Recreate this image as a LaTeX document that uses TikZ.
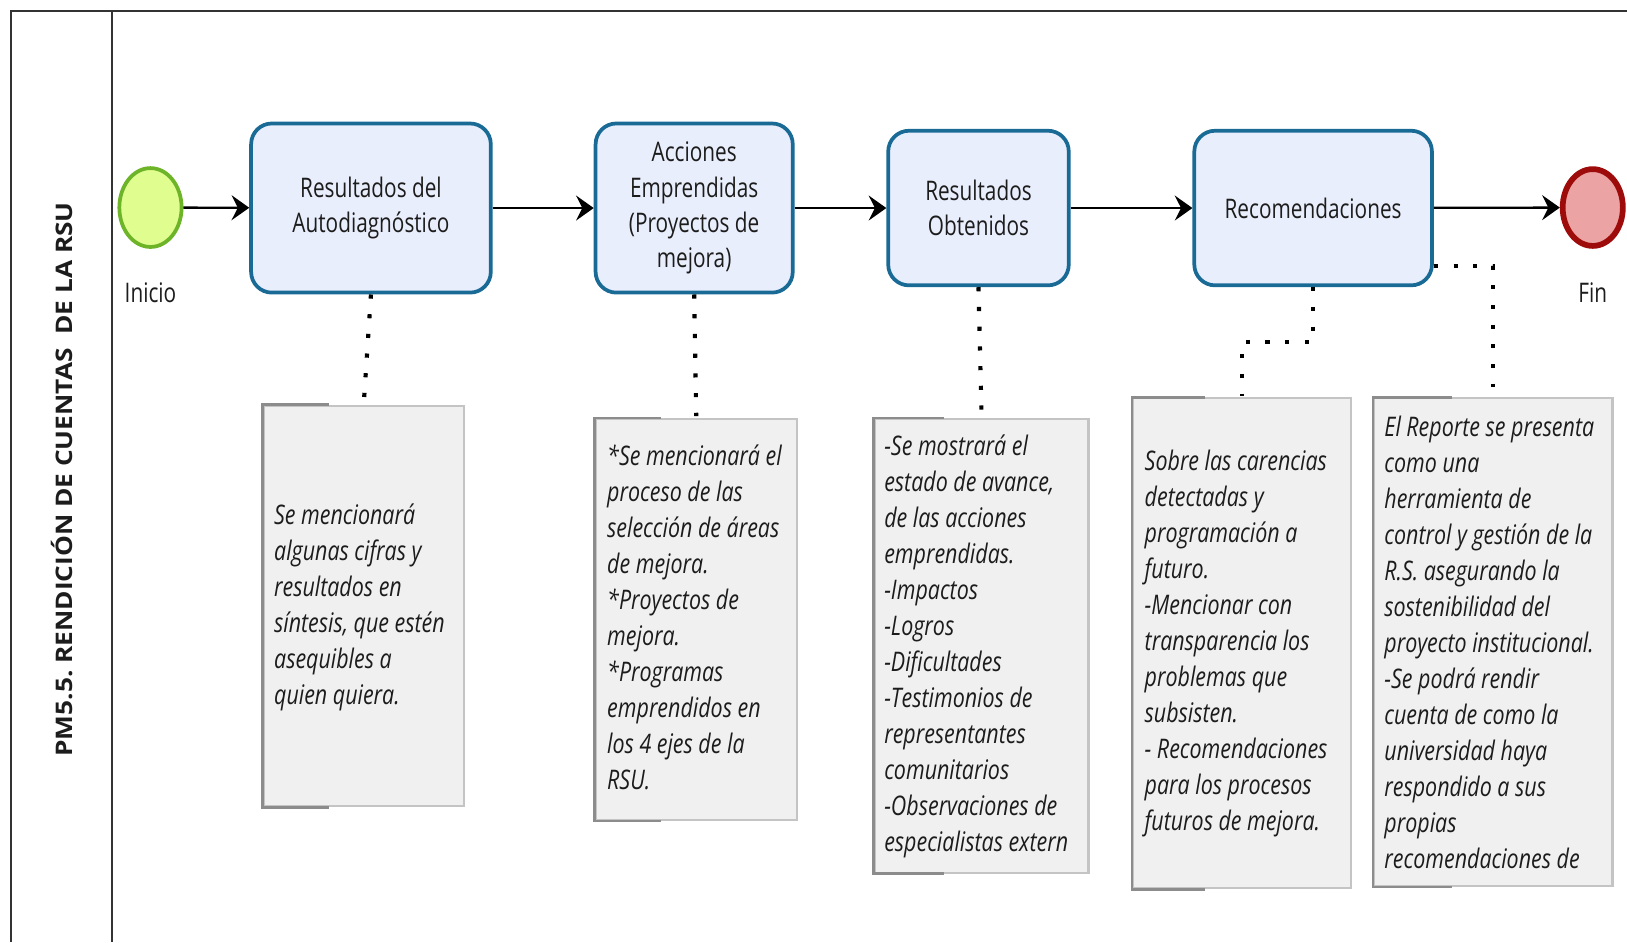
\documentclass[tikz,border=0pt]{standalone}
\usepackage{fontspec}
\setmainfont[FakeStretch=0.77]{Open Sans}
\newfontfamily\notefont[FakeStretch=0.795]{Open Sans}
\newfontfamily\lanefont[FakeStretch=1.15]{Open Sans}
\usetikzlibrary{arrows.meta,shapes.geometric}
\definecolor{taskfill}{HTML}{E9EEFC}
\definecolor{taskline}{HTML}{1A6A96}
\definecolor{startfill}{HTML}{E0FD8F}
\definecolor{startline}{HTML}{6DB428}
\definecolor{endfill}{HTML}{EBA3A3}
\definecolor{endline}{HTML}{9E0B0B}
\definecolor{notefill}{HTML}{F0F0F0}
\definecolor{noteline}{HTML}{C4C4C4}
\definecolor{notebracket}{HTML}{8C8C8C}
\definecolor{frameline}{HTML}{333333}
\definecolor{txt}{HTML}{1C1C1C}
\frenchspacing
\tikzset{
  frame/.style={draw=frameline, line width=2pt},
  taskbox/.style={draw=taskline, fill=taskfill, line width=3.6pt, rounded corners=20pt,
    inner sep=0pt, align=center, text=txt, font=\fontsize{26}{34}\selectfont},
  startev/.style={ellipse, draw=startline, fill=startfill, line width=3.6pt,
    minimum width=60pt, minimum height=76pt, inner sep=0pt},
  endev/.style={ellipse, draw=endline, fill=endfill, line width=5.5pt,
    minimum width=58pt, minimum height=74pt, inner sep=0pt},
  evlabel/.style={text=txt, font=\fontsize{26}{34}\selectfont, inner sep=0pt},
  notebox/.style={draw=noteline, fill=notefill, line width=2pt, inner sep=0pt},
  notetext/.style={anchor=west, align=left, inner sep=0pt, text=txt,
    font=\notefont\itshape\fontsize{26}{34.7}\selectfont},
  bracket/.style={draw=notebracket, line width=2.4pt},
  flow/.style={draw=black, line width=2.2pt, -{Stealth[length=17pt,width=24pt,inset=6pt]}},
  assoc/.style={draw=black, line width=4pt, dash pattern=on 4pt off 15pt}
}
\begin{document}
\begin{tikzpicture}[x=1pt,y=-1pt]
\useasboundingbox (0,0) rectangle (1568,908);
\clip (0,0) rectangle (1568,908);
\fill[white] (0,0) rectangle (1568,908);

% pool frame
\draw[frame] (1568,11) -- (11,11) -- (11,908);
\draw[frame] (108,11) -- (108,908);
\node[rotate=90, inner sep=0pt, text=txt] (lane) at (60,462)
  {\lanefont\bfseries\fontsize{22}{26}\selectfont PM5.5. RENDICIÓN DE CUENTAS\ \ DE LA RSU};

% events and tasks
\node[startev] (start) at (145,200) {};
\node[evlabel] (startl) at (145,282) {Inicio};
\node[taskbox, minimum width=231pt, minimum height=163pt] (t1) at (357.5,200.5) {Resultados del\\Autodiagnóstico};
\node[taskbox, minimum width=190pt, minimum height=163pt] (t2) at (669,200.5) {Acciones\\Emprendidas\\(Proyectos de\\mejora)};
\node[taskbox, minimum width=174pt, minimum height=149pt] (t3) at (943,200.5) {Resultados\\Obtenidos};
\node[taskbox, minimum width=229pt, minimum height=149pt] (t4) at (1265.5,200.5) {Recomendaciones};
\node[endev] (end) at (1535,200) {};
\node[evlabel] (endl) at (1535,282) {Fin};

\draw[flow] (start) -- (t1);
\draw[flow] (t1) -- (t2);
\draw[flow] (t2) -- (t3);
\draw[flow] (t3) -- (t4);
\draw[flow] (t4) -- (end);

% notes
\node[notebox, minimum width=193pt, minimum height=386pt] (n1) at (350.5,584) {};
\node[notebox, minimum width=194pt, minimum height=386pt] (n2) at (671,597) {};
\node[notebox, minimum width=206pt, minimum height=437pt] (n3) at (946,622.5) {};
\node[notebox, minimum width=210pt, minimum height=472pt] (n4) at (1197,620) {};
\node[notebox, minimum width=230pt, minimum height=470pt] (n5) at (1439,619) {};

\draw[bracket] ([xshift=64pt]n1.north west) -- (n1.north west) -- (n1.south west) -- ([xshift=64pt]n1.south west);
\draw[bracket] ([xshift=64pt]n2.north west) -- (n2.north west) -- (n2.south west) -- ([xshift=64pt]n2.south west);
\draw[bracket] ([xshift=68pt]n3.north west) -- (n3.north west) -- (n3.south west) -- ([xshift=68pt]n3.south west);
\draw[bracket] ([xshift=70pt]n4.north west) -- (n4.north west) -- (n4.south west) -- ([xshift=70pt]n4.south west);
\draw[bracket] ([xshift=76pt]n5.north west) -- (n5.north west) -- (n5.south west) -- ([xshift=76pt]n5.south west);

\node[notetext] (n1t) at ([xshift=11pt,yshift=-1pt]n1.west) {Se mencionará\\algunas cifras y\\resultados en\\síntesis, que estén\\asequibles a\\quien quiera.};
\node[notetext] (n2t) at ([xshift=12pt,yshift=2pt]n2.west) {*Se mencionará el\\proceso de las\\selección de áreas\\de mejora.\\*Proyectos de\\mejora.\\*Programas\\emprendidos en\\los 4 ejes de la\\RSU.};
\node[notetext] (n3t) at ([xshift=10pt]n3.west) {-Se mostrará el\\estado de avance,\\de las acciones\\emprendidas.\\-Impactos\\-Logros\\-Dificultades\\-Testimonios de\\representantes\\comunitarios\\-Observaciones de\\especialistas extern};
\node[notetext] (n4t) at ([xshift=12pt]n4.west) {Sobre las carencias\\detectadas y\\programación a\\futuro.\\-Mencionar con\\transparencia los\\problemas que\\subsisten.\\- Recomendaciones\\para los procesos\\futuros de mejora.};
\node[notetext] (n5t) at ([xshift=11pt]n5.west) {El Reporte se presenta\\como una\\herramienta de\\control y gestión de la\\R.S. asegurando la\\sostenibilidad del\\proyecto institucional.\\-Se podrá rendir\\cuenta de como la\\universidad haya\\respondido a sus\\propias\\recomendaciones de};

% associations
\draw[assoc, shorten >=7pt] (t1.south) -- (n1.north);
\draw[assoc, shorten >=2pt] (t2.south) -- (n2.north);
\draw[assoc, shorten >=6pt] (t3.south) -- (n3.north);
\draw[assoc, shorten >=1pt] (t4.south) -- ++(0,53) -| (n4.north);
\draw[assoc, shorten >=10pt] ([yshift=-55.5pt]t4.east) -| (n5.north);
\end{tikzpicture}
\end{document}
